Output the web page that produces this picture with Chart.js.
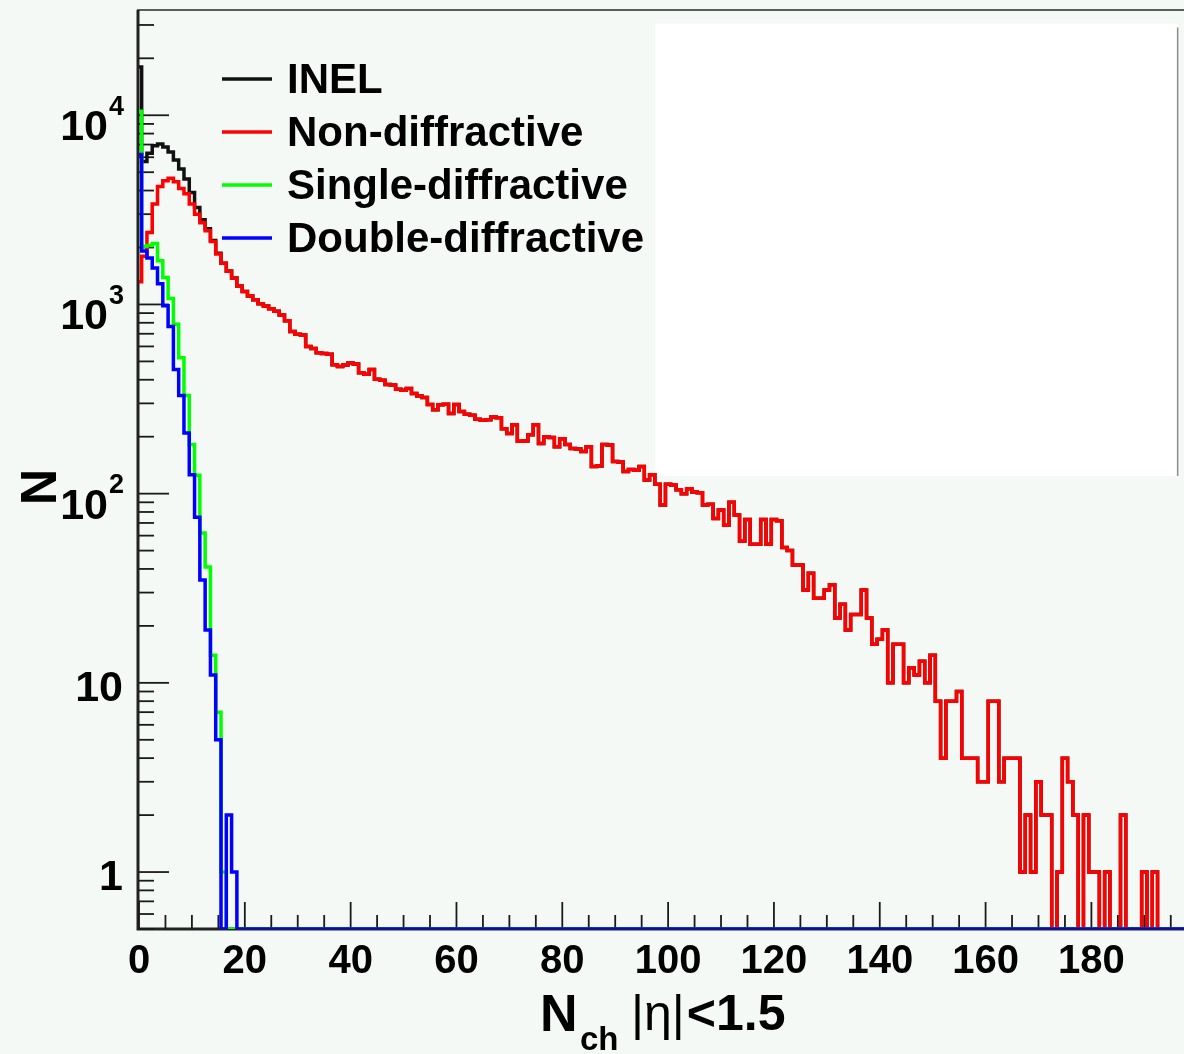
<!DOCTYPE html>
<html>
<head>
<meta charset="utf-8">
<title>Nch |eta|<1.5</title>
<script src="https://cdn.jsdelivr.net/npm/chart.js@4.4.1/dist/chart.umd.min.js"></script>
<style>
  html, body { margin:0; padding:0; background:#f5f9f6; overflow:hidden; }
  canvas { display:block; }
</style>
</head>
<body>
<canvas id="c" width="1184" height="1054"></canvas>
<script>
const FONT = '"Liberation Sans", Arial, Helvetica, sans-serif';
const BG = '#f5f9f6';

// axis ranges (bins are 1 wide, centred on the integers)
const X_MIN = 0, X_MAX = 197.5;
const Y_MIN = 0.5, Y_MAX = 36000;

const X_TICK_LABELS = [0, 20, 40, 60, 80, 100, 120, 140, 160, 180];
const X_MINOR_STEP = 5;
const Y_TICK_VALUES = [1, 10, 100, 1000, 10000];
const Y_TICK_BASE = ['1', '10', '10', '10', '10'];
const Y_TICK_EXP = ['', '', '2', '3', '4'];

const SERIES_LABELS = ['INEL', 'Non-diffractive', 'Single-diffractive', 'Double-diffractive'];
const SERIES_COLORS = ['#111111', '#ff0000', '#00ff00', '#0000ff'];

// counts per bin, bin 0 .. 197
const NON_DIFF = [
  1320,1800,2400,3400,4200,4500,4650,4450,4100,3850,
  3400,3000,2700,2450,2150,1850,1650,1500,1380,1250,
  1170,1110,1060,1010,980,950,920,880,820,720,
  695,690,600,585,555,550,545,480,470,478,
  490,485,435,428,453,402,398,378,375,356,
  352,360,338,328,322,296,278,295,297,265,
  296,272,263,260,247,244,246,254,252,220,
  208,231,189,190,205,231,184,200,198,177,
  195,182,173,172,167,177,139,140,182,181,
  148,147,131,134,133,139,118,126,112,87,
  112,111,105,100,106,102,101,87,88,74,
  82,68,90,77,56,73,54,54,73,54,
  73,72,52,50,42,42,31,38,28,28,
  31,33,22,26,19,23,23,31,22,16,
  17,19,10,16,16,10,12,11,13,10,
  14,8,4,8,8,9,4,4,4,3,
  3,8,8,3,4,4,4,1,2,1,
  3,2,2,0,1,4,3,2,0,2,
  1,1,0,1,0,0,2,0,0,0,
  1,0,1,0,0,0,0,0
];

const INEL = [
  18000,5700,6300,6900,7050,6800,6400,5800,5200,4600,
  3900,3250,2800,2510,2175,1862,1651,1502,1381,1250,
  1170,1110,1060,1010,980,950,920,880,820,720,
  695,690,600,585,555,550,545,480,470,478,
  490,485,435,428,453,402,398,378,375,356,
  352,360,338,328,322,296,278,295,297,265,
  296,272,263,260,247,244,246,254,252,220,
  208,231,189,190,205,231,184,200,198,177,
  195,182,173,172,167,177,139,140,182,181,
  148,147,131,134,133,139,118,126,112,87,
  112,111,105,100,106,102,101,87,88,74,
  82,68,90,77,56,73,54,54,73,54,
  73,72,52,50,42,42,31,38,28,28,
  31,33,22,26,19,23,23,31,22,16,
  17,19,10,16,16,10,12,11,13,10,
  14,8,4,8,8,9,4,4,4,3,
  3,8,8,3,4,4,4,1,2,1,
  3,2,2,0,1,4,3,2,0,2,
  1,1,0,1,0,0,2,0,0,0,
  1,0,1,0,0,0,0,0
];

const SINGLE_DIFF = [
  10500,2030,2050,2100,1700,1390,1075,785,522,330,
  182,125,62,41,14,7,1,0,0,0,
  0,0,0,0,0,0,0,0,0,0, 0,0,0,0,0,0,0,0,0,0,
  0,0,0,0,0,0,0,0,0,0, 0,0,0,0,0,0,0,0,0,0,
  0,0,0,0,0,0,0,0,0,0, 0,0,0,0,0,0,0,0,0,0,
  0,0,0,0,0,0,0,0,0,0, 0,0,0,0,0,0,0,0,0,0,
  0,0,0,0,0,0,0,0,0,0, 0,0,0,0,0,0,0,0,0,0,
  0,0,0,0,0,0,0,0,0,0, 0,0,0,0,0,0,0,0,0,0,
  0,0,0,0,0,0,0,0,0,0, 0,0,0,0,0,0,0,0,0,0,
  0,0,0,0,0,0,0,0,0,0, 0,0,0,0,0,0,0,0,0,0,
  0,0,0,0,0,0,0,0,0,0,
  0,0,0,0,0,0,0,0
];

const DOUBLE_DIFF = [
  6200,1918,1760,1560,1285,985,765,453,330,209,
  126,75,35,19,11,5,0,2,1,0,
  0,0,0,0,0,0,0,0,0,0, 0,0,0,0,0,0,0,0,0,0,
  0,0,0,0,0,0,0,0,0,0, 0,0,0,0,0,0,0,0,0,0,
  0,0,0,0,0,0,0,0,0,0, 0,0,0,0,0,0,0,0,0,0,
  0,0,0,0,0,0,0,0,0,0, 0,0,0,0,0,0,0,0,0,0,
  0,0,0,0,0,0,0,0,0,0, 0,0,0,0,0,0,0,0,0,0,
  0,0,0,0,0,0,0,0,0,0, 0,0,0,0,0,0,0,0,0,0,
  0,0,0,0,0,0,0,0,0,0, 0,0,0,0,0,0,0,0,0,0,
  0,0,0,0,0,0,0,0,0,0, 0,0,0,0,0,0,0,0,0,0,
  0,0,0,0,0,0,0,0,0,0,
  0,0,0,0,0,0,0,0
];

const SERIES = [INEL, NON_DIFF, SINGLE_DIFF, DOUBLE_DIFF];

// white patch in the upper right (in data units)
const PATCH = { x0: 97.6, x1: 196.3, yTop: 30500, yBottom: 124 };

// histogram outline: each bin is a flat step, empty bins sit on the axis floor
function histPoints(counts){
  const pts = [];
  counts.forEach((c, i) => {
    const v = Math.max(c, Y_MIN);
    const lo = Math.max(i - 0.5, X_MIN), hi = Math.min(i + 0.5, X_MAX);
    if (hi <= lo) return;
    pts.push({x: lo, y: v}, {x: hi, y: v});
  });
  return pts;
}

function line(ctx, x1, y1, x2, y2){
  ctx.beginPath(); ctx.moveTo(x1, y1); ctx.lineTo(x2, y2); ctx.stroke();
}

const rootStyle = {
  id: 'rootStyle',
  beforeDraw(chart){
    const {ctx, width, height} = chart;
    ctx.save();
    ctx.fillStyle = BG;
    ctx.fillRect(0, 0, width, height);
    ctx.restore();
  },
  beforeDatasetsDraw(chart){
    const {ctx, chartArea: a} = chart;
    const x = chart.scales.x, y = chart.scales.y;
    ctx.save();

    // white patch
    const bx0 = x.getPixelForValue(PATCH.x0), bx1 = x.getPixelForValue(PATCH.x1);
    const by0 = y.getPixelForValue(PATCH.yTop), by1 = y.getPixelForValue(PATCH.yBottom);
    ctx.fillStyle = '#ffffff';
    ctx.fillRect(bx0, by0, bx1 - bx0, by1 - by0);
    ctx.strokeStyle = '#8c8c8c'; ctx.lineWidth = 1.5;
    line(ctx, bx1, by0 + 4, bx1, by1);

    // frame
    ctx.strokeStyle = '#5c5c5c'; ctx.lineWidth = 2;
    line(ctx, a.left - 2, a.top, a.right, a.top);
    ctx.strokeStyle = '#222'; ctx.lineWidth = 3;
    ctx.beginPath();
    ctx.moveTo(a.left - 1, a.top);
    ctx.lineTo(a.left - 1, a.bottom);
    ctx.lineTo(a.right, a.bottom);
    ctx.stroke();

    // y ticks (inside the frame)
    ctx.strokeStyle = '#1a1a1a'; ctx.lineWidth = 1.8;
    for (let e = -1; e <= 4; e++){
      for (let k = 1; k <= 9; k++){
        const v = k * Math.pow(10, e);
        if (v < Y_MIN || v > Y_MAX) continue;
        const py = y.getPixelForValue(v);
        line(ctx, a.left, py, a.left + (k === 1 ? 30 : 15), py);
      }
    }
    // x ticks
    for (let v = X_MIN; v <= X_MAX; v += X_MINOR_STEP){
      const px = x.getPixelForValue(v);
      line(ctx, px, a.bottom, px, a.bottom - (v % 20 === 0 ? 27 : 14));
    }
    ctx.restore();
  },
  afterDatasetsDraw(chart){
    const {ctx, chartArea: a} = chart;
    const x = chart.scales.x, y = chart.scales.y;
    ctx.save();
    ctx.fillStyle = '#000';

    // x tick labels
    ctx.font = 'bold 40px ' + FONT;
    ctx.textAlign = 'center'; ctx.textBaseline = 'middle';
    X_TICK_LABELS.forEach(v => ctx.fillText(String(v), x.getPixelForValue(v), a.bottom + 33));

    // y tick labels, with superscript exponents
    ctx.textBaseline = 'middle'; ctx.textAlign = 'right';
    Y_TICK_VALUES.forEach((v, i) => {
      const py = y.getPixelForValue(v);
      if (Y_TICK_EXP[i]){
        ctx.font = 'bold 27px ' + FONT;
        const supW = ctx.measureText(Y_TICK_EXP[i]).width;
        ctx.fillText(Y_TICK_EXP[i], a.left - 15, py - 8);
        ctx.font = 'bold 43px ' + FONT;
        ctx.fillText(Y_TICK_BASE[i], a.left - 16 - supW, py + 13);
      } else {
        ctx.font = 'bold 43px ' + FONT;
        ctx.fillText(Y_TICK_BASE[i], a.left - 16, py + 6);
      }
    });

    // legend
    const legX = a.left + 83, legY = a.top + 69, legDY = 53;
    ctx.textAlign = 'left'; ctx.textBaseline = 'alphabetic';
    ctx.font = 'bold 42px ' + FONT;
    SERIES_LABELS.forEach((lab, i) => {
      const ly = legY + i * legDY;
      ctx.strokeStyle = SERIES_COLORS[i]; ctx.lineWidth = 3.5;
      line(ctx, legX, ly, legX + 50, ly);
      ctx.fillStyle = '#000';
      ctx.fillText(lab, legX + 65, ly + 14);
    });

    // x title: N_ch |eta|<1.5
    ctx.font = 'bold 52px ' + FONT;
    ctx.fillText('N', 540, 1031);
    ctx.font = 'bold 33px ' + FONT;
    ctx.fillText('ch', 580, 1050);
    ctx.font = '50px ' + FONT;
    ctx.fillText('|\u03b7|', 631, 1030);
    const etaW = ctx.measureText('|\u03b7|').width;
    ctx.font = 'bold 50px ' + FONT;
    ctx.fillText('<1.5', 633 + etaW, 1030);

    // y title
    ctx.translate(38, 487);
    ctx.rotate(-Math.PI / 2);
    ctx.textAlign = 'center';
    ctx.font = 'bold 50px ' + FONT;
    ctx.fillText('N', 0, 18);
    ctx.restore();
  }
};

const datasets = SERIES.map((counts, i) => ({
  label: SERIES_LABELS[i],
  data: histPoints(counts),
  borderColor: SERIES_COLORS[i],
  borderWidth: 3.5,
  fill: false,
  pointRadius: 0,
  tension: 0,
  borderJoinStyle: 'miter',
  borderCapStyle: 'butt',
  order: SERIES.length - i   // INEL underneath, DD on top
}));

new Chart(document.getElementById('c'), {
  type: 'line',
  data: { datasets },
  options: {
    responsive: false,
    animation: false,
    devicePixelRatio: 1,
    layout: { padding: { left: 139, top: 10, right: 0, bottom: 125 } },
    scales: {
      x: { type: 'linear', min: X_MIN, max: X_MAX, display: false },
      y: { type: 'logarithmic', min: Y_MIN, max: Y_MAX, display: false }
    },
    plugins: { legend: { display: false }, tooltip: { enabled: false } }
  },
  plugins: [rootStyle]
});
</script>
</body>
</html>
